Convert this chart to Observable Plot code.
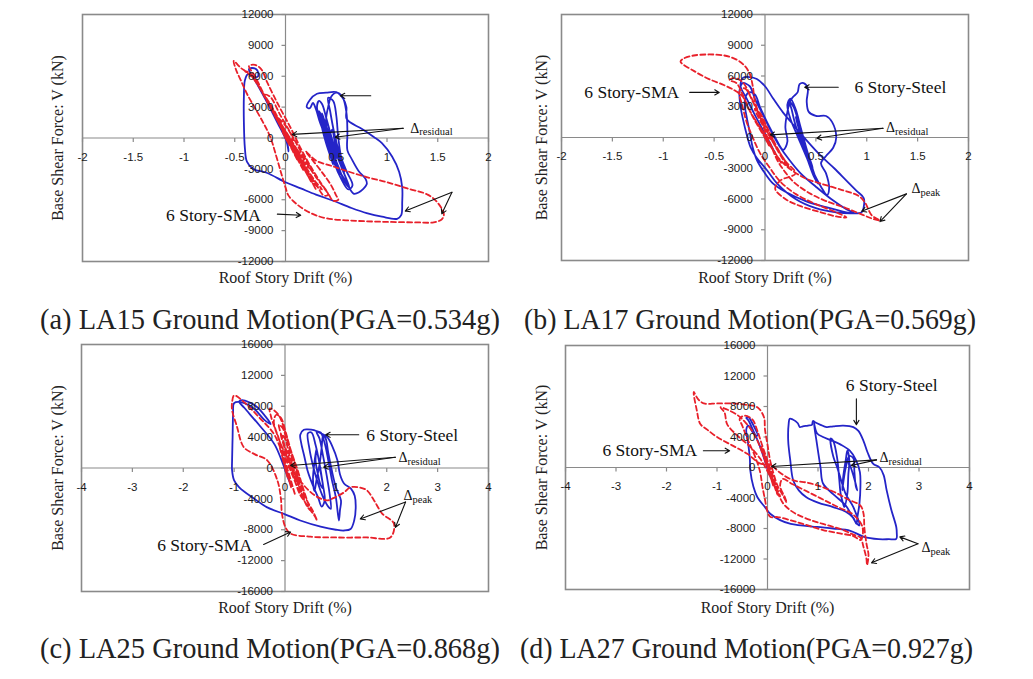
<!DOCTYPE html>
<html><head><meta charset="utf-8">
<script src="https://cdn.jsdelivr.net/npm/d3@7"></script>
<script src="https://cdn.jsdelivr.net/npm/@observablehq/plot@0.6"></script>
<style>
body{margin:0;background:#fff;}
#wrap{position:relative;width:1033px;height:679px;overflow:hidden;background:#fff;}
#wrap > svg, #wrap > figure{position:absolute;margin:0;}
</style></head><body><div id="wrap"></div>
<script>
// ---------- tick values ----------
const xTicksAB = [-2,-1.5,-1,-0.5,0,0.5,1,1.5,2];
const yTicksAB = [-12000,-9000,-6000,-3000,0,3000,6000,9000,12000];
const xTicksCD = [-4,-3,-2,-1,0,1,2,3,4];
const yTicksCD = [-16000,-12000,-8000,-4000,0,4000,8000,12000,16000];

const xTitle = "Roof Story Drift (%)";
const yTitle = "Base Shear Force: V (kN)";
const captions = [
  "(a) LA15 Ground Motion(PGA=0.534g)",
  "(b) LA17 Ground Motion(PGA=0.569g)",
  "(c) LA25 Ground Motion(PGA=0.868g)",
  "(d) LA27 Ground Motion(PGA=0.927g)"
];

// ---------- series: [drift %, base shear kN] ----------
const steelA = [[0,0],[0.02,-600],[0.03,-1300],[0.01,-300],[-0.08,1500],[-0.2,3800],[-0.3,5600],[-0.36,6700],[-0.33,6800],[-0.28,6600],[-0.27,6000],[-0.3,5900],[-0.37,6200],[-0.40,5600],[-0.41,4000],[-0.41,1500],[-0.40,-1000],[-0.38,-2300],[-0.32,-3000],[-0.18,-3400],[0,-4300],[0.15,-4900],[0.3,-5500],[0.47,-6100],[0.65,-6800],[0.8,-7300],[0.95,-7650],[1.1,-7850],[1.14,-7500],[1.15,-6200],[1.15,-4800],[1.12,-3300],[1.05,-1800],[0.95,-500],[0.87,100],[0.75,900],[0.64,1500],[0.6,1900],
[0.6,3000],[0.57,3800],[0.5,4450],[0.4,4400],[0.31,4300],[0.24,3700],[0.21,3000],[0.24,2900],[0.27,3400],[0.3,2800],[0.34,1500],[0.4,0],[0.46,-1600],[0.52,-3000],[0.6,-4300],[0.67,-5400],[0.72,-5300],[0.8,-4500],[0.79,-4000],[0.72,-3200],[0.65,-2000],[0.61,-1200],[0.61,500],[0.6,2500],[0.56,4000],[0.5,4400],[0.45,4000],[0.42,3000],[0.4,1800],[0.42,200],[0.47,-1500],[0.53,-3000],[0.58,-4200],[0.63,-4800],[0.6,-4000],[0.55,-2800],[0.5,-1500],[0.45,200],[0.4,2000],[0.36,3300],[0.33,3600],[0.31,3000],[0.34,1800],[0.38,300],[0.44,-1300],[0.5,-2800],[0.54,-3500],[0.52,-2800],[0.47,-1500],[0.42,0],[0.38,1500],[0.36,2400],[0.38,1800],[0.43,300],[0.48,-1200],[0.5,-2000],[0.47,-1000],[0.44,0],[0.4,1200],[0.34,2200],[0.36,1000],[0.4,-500],[0.45,-2000],[0.47,-2600],[0.44,-1500],[0.39,300],[0.35,1900],[0.37,1200],[0.42,-800],[0.46,-2200],[0.43,-1200],[0.39,200],[0.33,2600],[0.36,2000],[0.41,100],[0.48,-2400],[0.55,-4000],[0.62,-5000],[0.66,-4600],[0.6,-3200],[0.53,-1400],[0.48,500],[0.44,2600],[0.42,3900],[0.47,3600],[0.5,2200],[0.52,0],[0.55,-2000],[0.58,-3300],[0.54,-2200],[0.49,-600],[0.46,800],[0.44,400],[0.41,-200]];

const smaA = [[0,0],[0.04,-700],[-0.03,600],[0.08,-1300],[-0.06,1400],[0.12,-2200],[-0.12,2500],[0.18,-3200],[-0.18,3600],[0.25,-4200],[-0.25,4800],[0.3,-5000],[-0.32,5800],[-0.45,6900],[-0.51,7500],[-0.49,6700],[-0.44,5600],[-0.38,4300],[-0.3,2900],[-0.22,1500],[-0.15,100],[-0.09,-1800],[-0.04,-3500],[0.0,-4800],[0.03,-5600],[0.12,-6500],[0.25,-7300],[0.4,-7800],[0.7,-8050],[1.0,-8150],[1.3,-8200],[1.46,-8200],[1.54,-7900],[1.56,-7400],[1.5,-6300],[1.4,-5500],[1.2,-4900],[1.0,-4300],[0.8,-3800],[0.6,-3200],[0.45,-2700],[0.3,-2200],[0.2,-1300],
[0.35,-3200],[0.45,-4600],[0.5,-5600],[0.52,-6000],[0.47,-6100],[0.42,-5400],[0.3,-3800],[0.15,-1600],[0.0,400],[-0.12,2500],[-0.22,4400],[-0.3,6000],[-0.36,7000],[-0.3,7100],[-0.24,6700],[-0.18,5400],[-0.08,3400],[0.05,1000],[0.15,-1000],[0.25,-2800],[0.35,-4400],[0.42,-5500],[0.38,-5600],[0.3,-4500],[0.2,-3000],[0.1,-1200],[-0.05,1200],[-0.18,3600],[-0.28,5400],[-0.35,6300],[-0.4,6500],[-0.33,6000],[-0.22,4300],[-0.1,2300],[0.02,300],[0.13,-1700],[0.22,-3300],[0.3,-4600],[0.36,-5000],[0.3,-4300],[0.2,-2800],[0.1,-1000],[-0.02,1000],[-0.12,2800],[-0.2,4200],[-0.15,4000],[-0.05,2200],[0.05,500],[0.15,-1300],[0.25,-3000],[0.2,-2600],[0.1,-900],[0.0,700],[-0.08,2000],[0.0,1200],[0.08,-200],[0.04,100]];

const steelB = [[0,0],[0.05,-800],[-0.05,1000],[0.1,-1500],[-0.1,2200],[-0.18,3800],[-0.24,5000],[-0.22,5800],[-0.15,5900],[-0.08,5700],[0.0,5000],[0.08,3800],[0.18,2400],[0.3,1000],[0.42,-400],[0.55,-1800],[0.68,-3000],[0.8,-4200],[0.9,-5200],[0.97,-5900],[0.97,-6800],[0.95,-7300],[0.85,-7400],[0.7,-7300],[0.5,-6900],[0.3,-6000],[0.12,-4500],[0.02,-3200],[-0.08,-2000],[-0.14,-1000],[-0.18,300],[-0.21,1500],[-0.24,3000],[-0.25,4600],[-0.22,5300],[-0.15,5000],[-0.1,3800],[-0.02,2200],[0.06,600],[0.14,-800],[0.24,-2200],
[0.35,-3500],[0.5,-4800],[0.65,-6000],[0.8,-7000],[0.88,-7400],[0.8,-7300],[0.6,-6800],[0.4,-6200],[0.2,-5300],[0.08,-4500],[0.0,-3500],[-0.08,-2200],[-0.12,-1000],[-0.15,500],[-0.18,2000],[-0.2,3500],[-0.16,4400],[-0.1,4200],[-0.05,3000],[0.02,1500],[0.1,0],[0.18,-1200],[0.22,-400],[0.2,1000],[0.22,2500],[0.25,3600],[0.28,4000],[0.32,4400],[0.34,5200],[0.38,5300],[0.42,4800],[0.41,3500],[0.43,2500],[0.5,2100],[0.6,2100],[0.66,1500],[0.7,0],[0.67,-1000],[0.6,-1800],[0.55,-2500],[0.6,-3500],[0.63,-5000],[0.61,-5600],[0.55,-4800],[0.48,-3500],[0.42,-2200],[0.36,-800],[0.3,600],[0.25,1800],[0.22,3200],[0.25,3800],[0.3,2800],[0.35,1000],[0.4,-800],[0.45,-2500],[0.5,-4000],[0.52,-4500],[0.48,-3800],[0.42,-2200],[0.36,-500],[0.3,1200],[0.26,2800],[0.24,3500],[0.28,3000],[0.33,1500],[0.38,-200],[0.43,-1800],[0.47,-3000],[0.44,-2500],[0.39,-1000],[0.34,600],[0.3,2000],[0.32,1500],[0.37,0],[0.42,-1500],[0.4,-1200],[0.36,0],[0.38,-100]];

const smaB = [[0,0],[0.04,-800],[-0.04,900],[0.1,-1600],[-0.1,1800],[0.16,-2500],[-0.16,2800],[-0.22,4000],[-0.3,4600],[-0.4,5100],[-0.55,5700],[-0.7,6500],[-0.83,7400],[-0.8,7700],[-0.7,8000],[-0.55,8100],[-0.4,8000],[-0.28,7600],[-0.2,7000],[-0.15,6200],[-0.12,5000],[-0.1,3600],[-0.05,2000],[0.0,600],[0.06,-800],[0.12,-2200],[0.2,-3400],[0.3,-4500],[0.45,-5500],[0.6,-6200],[0.8,-6900],[0.95,-7500],[1.05,-7900],[1.13,-8100],[1.05,-7600],[0.98,-6300],[0.92,-5700],[0.75,-5100],[0.55,-4500],[0.4,-4000],[0.25,-3100],[0.15,-2200],[0.05,-800],[-0.05,800],[-0.15,2600],[-0.22,4200],[-0.28,5300],[-0.35,5600],[-0.3,5800],[-0.22,5400],[-0.13,3800],[-0.05,2200],[0.05,400],[0.12,-1000],[0.2,-2300],[0.3,-3500],[0.15,-4200],[0.1,-5000],[0.2,-6000],[0.35,-6700],[0.55,-7300],[0.7,-7700],[0.8,-7800],[0.7,-7300],[0.5,-6500],[0.3,-5500],[0.15,-4300],[0.05,-3000],[-0.05,-1500],[-0.12,0],[-0.18,1500],[-0.22,3000],[-0.25,4500],[-0.2,4800],[-0.12,3500],[-0.05,2000],[0.02,600],[0.1,-800],[0.18,-2000],[0.24,-3000],[0.2,-2500],[0.12,-1200],[0.04,200],[-0.04,1500],[-0.1,2800],[-0.05,2400],[0.02,1000],[0.08,-300],[0.04,0]];

const steelC = [[0,0],[0.05,-1000],[-0.05,1200],[0.1,-2000],[-0.2,3000],[-0.5,5500],[-0.8,7800],[-0.9,8600],[-0.84,8800],[-0.7,8500],[-0.55,7900],[-0.4,6800],[-0.28,5700],[-0.4,6200],[-0.6,7600],[-0.85,8500],[-1.0,8400],[-1.02,7000],[-1.03,4000],[-1.04,1000],[-1.04,-300],[-1.0,-1600],[-0.9,-2500],[-0.6,-4000],[-0.35,-5100],[0.0,-6000],[0.3,-6800],[0.7,-7600],[1.0,-8000],[1.16,-8100],[1.29,-7900],[1.36,-6800],[1.39,-5100],[1.37,-3600],[1.3,-2700],[1.16,-2000],[1.08,-800],[1.03,1000],[0.93,2800],[0.83,4000],[0.7,4500],[0.57,4900],[0.45,5000],[0.37,4950],[0.3,4300],[0.32,3200],[0.38,1500],[0.45,-500],[0.55,-2300],[0.65,-3800],[0.72,-5000],[0.78,-4200],[0.74,-2000],[0.68,500],[0.6,3000],[0.52,4600],[0.45,4500],[0.48,2500],[0.55,300],[0.65,-2000],[0.75,-3800],[0.85,-5000],[0.9,-5300],[0.88,-3500],[0.82,-1000],[0.75,1500],[0.68,3800],[0.62,4700],[0.7,4600],[0.78,3200],[0.85,1000],[0.92,-1500],[1.0,-3800],[1.06,-6800],[1.08,-5500],[1.1,-4200],[1.0,-2500],[0.92,-300],[0.85,2000],[0.8,3800],[0.75,4200],[0.72,2600],[0.68,500],[0.62,-1500],[0.58,-3000],[0.55,-1500],[0.58,800],[0.62,2500],[0.6,1000],[0.64,-600],[0.7,-2200],[0.75,-2600],[0.72,-1200],[0.68,200],[0.7,0]];

const smaC = [[0,0],[0.05,-1200],[-0.05,1300],[0.12,-2500],[-0.1,2600],[0.2,-3500],[-0.2,4200],[-0.5,6500],[-0.8,8500],[-1.0,9400],[-1.04,8500],[-1.04,7500],[-0.95,5500],[-0.81,2700],[-0.6,1800],[-0.35,1000],[-0.15,-1600],[-0.08,-4000],[-0.06,-5900],[0.01,-7700],[0.11,-8500],[0.5,-8900],[1.0,-9000],[1.6,-9000],[2.07,-9000],[2.14,-7200],[1.91,-5900],[1.75,-4200],[1.61,-2900],[1.45,-2500],[1.29,-2500],[1.15,-3200],[0.95,-3900],[0.83,-4200],[0.65,-3800],[0.45,-2800],[0.25,-1200],[0.1,600],[-0.05,2600],[-0.18,4800],[-0.28,6800],[-0.3,7700],[-0.22,7500],[-0.12,6800],[0.0,4800],[0.1,2600],[0.2,500],[0.3,-1800],[0.4,-3800],[0.55,-5600],[0.63,-6800],[0.58,-6200],[0.45,-5000],[0.3,-3300],[0.15,-1000],[0.0,1500],[-0.12,3800],[-0.22,6000],[-0.17,6900],[-0.08,6500],[0.02,4500],[0.12,2200],[0.25,-300],[0.35,-2500],[0.45,-4500],[0.5,-5500],[0.42,-4800],[0.3,-2800],[0.18,-600],[0.05,1800],[-0.05,3800],[-0.12,5600],[-0.05,5200],[0.05,3300],[0.15,1000],[0.25,-1200],[0.32,-3000],[0.38,-4200],[0.3,-3500],[0.2,-1800],[0.1,300],[0.0,2400],[-0.08,4400],[0.0,3800],[0.08,1800],[0.18,-400],[0.26,-2200],[0.2,-1500],[0.1,200],[0.04,0]];

const steelD = [[0,0],[-0.05,1200],[0.05,-1200],[-0.15,2800],[-0.28,4800],[-0.38,6200],[-0.42,6500],[-0.38,6600],[-0.3,5800],[-0.2,4200],[-0.28,4500],[-0.38,5500],[-0.42,5000],[-0.38,3000],[-0.35,1200],[-0.34,-400],[-0.28,-2500],[-0.2,-3900],[-0.05,-5200],[0.06,-6100],[0.25,-6900],[0.46,-7400],[0.98,-7800],[1.3,-8000],[1.64,-8300],[1.91,-9100],[2.2,-9400],[2.4,-9400],[2.55,-9350],[2.56,-8600],[2.55,-7800],[2.45,-5500],[2.36,-3000],[2.3,-1000],[2.22,0],[2.09,500],[1.98,2000],[1.9,3500],[1.8,4800],[1.7,5300],[1.5,5500],[1.3,5400],[1.17,5300],[1.05,5600],[0.95,5900],[0.9,6100],[0.88,5600],[0.8,5500],[0.7,5400],[0.64,5300],[0.6,5800],[0.5,6300],[0.44,6400],[0.42,5800],[0.41,3500],[0.45,1000],[0.51,-1700],[0.62,-3000],[0.77,-3900],[1.0,-4600],[1.3,-5200],[1.55,-5800],[1.7,-6600],[1.76,-7400],[1.78,-6500],[1.82,-4800],[1.84,-2500],[1.83,-600],[1.75,1000],[1.63,2200],[1.45,3000],[1.25,3600],[1.1,4000],[0.98,4500],[0.92,5800],[0.97,3500],[1.05,0],[1.1,-2100],[1.3,-3500],[1.55,-5000],[1.75,-7200],[1.82,-7600],[1.7,-5200],
[1.55,-3500],[1.45,-1500],[1.38,0],[1.3,1500],[1.25,3800],[1.3,3500],[1.38,1200],[1.42,-1500],[1.45,-3500],[1.5,-4800],[1.52,-5200],[1.58,-3500],[1.6,-1000],[1.62,1000],[1.58,2200],[1.55,1000],[1.5,-1200],[1.48,-3000],[1.5,-2000],[1.55,0],[1.62,1500],[1.7,1200],[1.72,-500],[1.75,-2500],[1.78,-3000],[1.72,-1500],[1.65,0],[1.6,800],[1.62,200]];

const smaD = [[0,0],[0.06,-1300],[-0.05,1400],[0.12,-2500],[-0.12,2700],[0.2,-3600],[-0.25,4200],[-0.45,6000],[-0.6,6900],[-0.8,7600],[-0.93,7900],[-0.85,7200],[-0.8,5700],[-0.6,4200],[-0.34,2700],[-0.15,1200],[0.0,-500],[0.12,-2200],[0.22,-3600],[0.32,-4800],[0.45,-5600],[0.6,-6200],[0.9,-7000],[1.2,-7600],[1.5,-8200],[1.7,-8800],[1.84,-9200],[1.9,-10400],[1.96,-12000],[1.97,-12800],[2.0,-11500],[1.96,-10000],[1.92,-8000],[1.9,-6000],[1.84,-5000],[1.6,-4200],[1.38,-3400],[1.1,-2600],[0.8,-2000],[0.52,-1700],[0.25,-700],[0.05,400],[-0.14,500],[-0.4,1800],[-0.7,2900],[-1.0,4000],[-1.2,5000],[-1.33,5700],[-1.4,7500],[-1.46,9900],[-1.38,9000],[-1.26,8400],[-1.0,8400],[-0.67,8400],[-0.4,8200],[-0.2,7900],[-0.07,6600],[-0.05,5000],[0.0,3000],[0.05,1000],[0.12,-800],[0.2,-2400],[0.3,-3600],[0.38,-4600],[0.35,-4000],[0.25,-2400],[0.3,-1500],[0.5,-2200],[0.8,-3200],[1.1,-4200],[1.4,-5200],[1.7,-6200],[1.88,-7800],[1.85,-9500],[1.7,-9000],[1.4,-8600],[1.1,-8200],[0.8,-7600],[0.5,-7000],[0.2,-6500],[0.06,-6500],[0.0,-5800],[-0.05,-4200],[-0.1,-2500],[-0.15,-500],[-0.25,1500],[-0.4,3800],[-0.5,5500],[-0.55,6400],[-0.45,6800],[-0.3,6300],[-0.2,4800],[-0.1,2800],[0.0,900],[0.1,-1000],[0.18,-2600],[0.25,-3800],[0.2,-3400],[0.12,-2000],[0.04,-600],[-0.05,900],[0.02,300]];

// ---------- annotations (data units) ----------
const arrowsA = [[-0.08,-7400,0.15,-7500],[0.84,4100,0.54,4100],[1.16,950,0.066,350],[1.16,950,0.49,80],[1.64,-5270,1.18,-7100],[1.64,-5270,1.54,-7370]];
const arrowsB = [[-0.74,4400,-0.45,4400],[0.72,4900,0.39,4900],[1.16,900,0.05,260],[1.16,900,0.51,-70],[1.39,-5500,0.95,-7200],[1.39,-5500,1.13,-8200]];
const arrowsC = [[1.45,4300,0.80,4300],[2.17,1400,0.11,320],[2.17,1400,0.76,100],[2.37,-4400,1.48,-6600],[2.37,-4400,2.17,-7700],[-0.42,-9900,0.11,-8300]];
const arrowsD = [[1.76,9000,1.76,5600],[-1.27,2200,-0.75,2200],[2.16,1000,0.08,130],[2.16,1000,1.66,260],[2.98,-10000,2.62,-9100],[2.98,-10000,2.06,-12500]];

const labelsA = [[-0.71,-7530,"6 Story-SMA"]];
const labelsB = [[-1.31,4390,"6 Story-SMA"],[1.33,4880,"6 Story-Steel"]];
const labelsC = [[2.5,4210,"6 Story-Steel"],[-1.58,-10050,"6 Story-SMA"]];
const labelsD = [[2.46,10750,"6 Story-Steel"],[-2.33,2230,"6 Story-SMA"]];

const deltasA = [[1.23,970,"residual"]];
const deltasB = [[1.19,930,"residual"],[1.44,-4980,"peak"]];
const deltasC = [[2.23,1400,"residual"],[2.33,-3560,"peak"]];
const deltasD = [[2.22,1350,"residual"],[3.05,-10450,"peak"]];

// ---------- drawing ----------
const GRID = "#8a8a8a";
const BLUE = "#2424c8";
const RED = "#e8202a";
const SERIF = "'Liberation Serif', 'Times New Roman', serif";
const SANS = "'Liberation Sans', Arial, sans-serif";
const tickDown = {draw(ctx){ ctx.moveTo(0,0); ctx.lineTo(0,4); }};
const tickLeft = {draw(ctx){ ctx.moveTo(0,0); ctx.lineTo(-4,0); }};
const pts = arr => arr.map(([x,y]) => ({x,y}));

function makePanel(p) {
  const arrows = p.arrows.map(([x1,y1,x2,y2]) => ({x1,y1,x2,y2}));
  const labels = p.labels.map(([x,y,t]) => ({x,y,t}));
  const deltas = p.deltas.map(([x,y,t]) => ({x,y,t}));
  const svg = Plot.plot({
    width: p.width, height: 300,
    marginLeft: p.ml, marginRight: p.mr, marginTop: p.mt, marginBottom: p.mb,
    x: {domain: p.xdom, axis: null},
    y: {domain: p.ydom, axis: null},
    style: {background: "transparent", overflow: "visible"},
    marks: [
      Plot.ruleX([0], {stroke: GRID, strokeWidth: 1.2}),
      Plot.ruleY([0], {stroke: GRID, strokeWidth: 1.2}),
      Plot.dot(p.xticks, {x: d => d, y: 0, symbol: tickDown, stroke: GRID, fill: "none", strokeWidth: 1.2}),
      Plot.dot(p.yticks, {x: 0, y: d => d, symbol: tickLeft, stroke: GRID, fill: "none", strokeWidth: 1.2}),
      Plot.frame({stroke: GRID, strokeWidth: 1.6}),
      Plot.line(pts(p.steel), {x: "x", y: "y", stroke: BLUE, strokeWidth: 1.8, curve: "catmull-rom"}),
      Plot.line(pts(p.sma), {x: "x", y: "y", stroke: RED, strokeWidth: 1.8, strokeDasharray: "5,3", curve: "catmull-rom"}),
      Plot.text(p.xticks, {x: d => d, y: 0, text: d => String(d), dy: 19, fontSize: 11.5, fontFamily: SANS, fill: "#1a1a1a"}),
      Plot.text(p.yticks, {x: 0, y: d => d, text: d => String(d), textAnchor: "end", dx: -12, fontSize: 11.5, fontFamily: SANS, fill: "#1a1a1a"}),
      Plot.arrow(arrows, {x1: "x1", y1: "y1", x2: "x2", y2: "y2", stroke: "#111", strokeWidth: 1.1, headLength: 7, insetEnd: 0}),
      Plot.text(labels, {x: "x", y: "y", text: "t", fontSize: 17.5, fontFamily: SERIF, fill: "#111"}),
      Plot.text(deltas, {x: "x", y: "y", text: () => "\u0394", textAnchor: "start", fontSize: 14, fontFamily: SERIF, fill: "#111"}),
      Plot.text(deltas, {x: "x", y: "y", text: "t", textAnchor: "start", dx: 9, dy: 4, fontSize: 10.5, fontFamily: SERIF, fill: "#111"}),
      Plot.text([yTitle], {frameAnchor: "left", textAnchor: "middle", rotate: -90, dx: p.ytdx, fontSize: 16, fontFamily: SERIF, fill: "#222"}),
      Plot.text([xTitle], {frameAnchor: "bottom", dy: p.xtdy, fontSize: 16, fontFamily: SERIF, fill: "#222"})
    ]
  });
  svg.style.left = p.left + "px";
  svg.style.top = p.top + "px";
  return svg;
}

const wrap = document.getElementById("wrap");
const panels = [
  {left: 0, top: 0, width: 516, ml: 82, mr: 28, mt: 14, mb: 39, xdom: [-2,2], ydom: [-12000,12000], xticks: xTicksAB, yticks: yTicksAB, steel: steelA, sma: smaA, arrows: arrowsA, labels: labelsA, deltas: deltasA, ytdx: -25, xtdy: 21},
  {left: 516, top: 0, width: 517, ml: 45, mr: 65, mt: 14, mb: 40, xdom: [-2,2], ydom: [-12000,12000], xticks: xTicksAB, yticks: yTicksAB, steel: steelB, sma: smaB, arrows: arrowsB, labels: labelsB, deltas: deltasB, ytdx: -20, xtdy: 22},
  {left: 0, top: 330, width: 516, ml: 81, mr: 28, mt: 14, mb: 39, xdom: [-4,4], ydom: [-16000,16000], xticks: xTicksCD, yticks: yTicksCD, steel: steelC, sma: smaC, arrows: arrowsC, labels: labelsC, deltas: deltasC, ytdx: -24, xtdy: 21},
  {left: 516, top: 330, width: 517, ml: 49, mr: 64, mt: 15, mb: 41, xdom: [-4,4], ydom: [-16000,16000], xticks: xTicksCD, yticks: yTicksCD, steel: steelD, sma: smaD, arrows: arrowsD, labels: labelsD, deltas: deltasD, ytdx: -24, xtdy: 23}
];
panels.forEach(p => wrap.appendChild(makePanel(p)));

// captions
const NS = "http://www.w3.org/2000/svg";
const cap = document.createElementNS(NS, "svg");
cap.setAttribute("width", 1033); cap.setAttribute("height", 679);
cap.style.left = "0px"; cap.style.top = "0px"; cap.style.pointerEvents = "none";
const capPos = [[40,329,460],[524,329,452],[40,658,460],[520,658,453]];
captions.forEach((c, i) => {
  const t = document.createElementNS(NS, "text");
  t.setAttribute("x", capPos[i][0]); t.setAttribute("y", capPos[i][1]);
  t.setAttribute("textLength", capPos[i][2]); t.setAttribute("lengthAdjust", "spacingAndGlyphs");
  t.setAttribute("font-family", SERIF); t.setAttribute("font-size", 29); t.setAttribute("fill", "#222");
  t.textContent = c;
  cap.appendChild(t);
});
wrap.appendChild(cap);
</script></body></html>
